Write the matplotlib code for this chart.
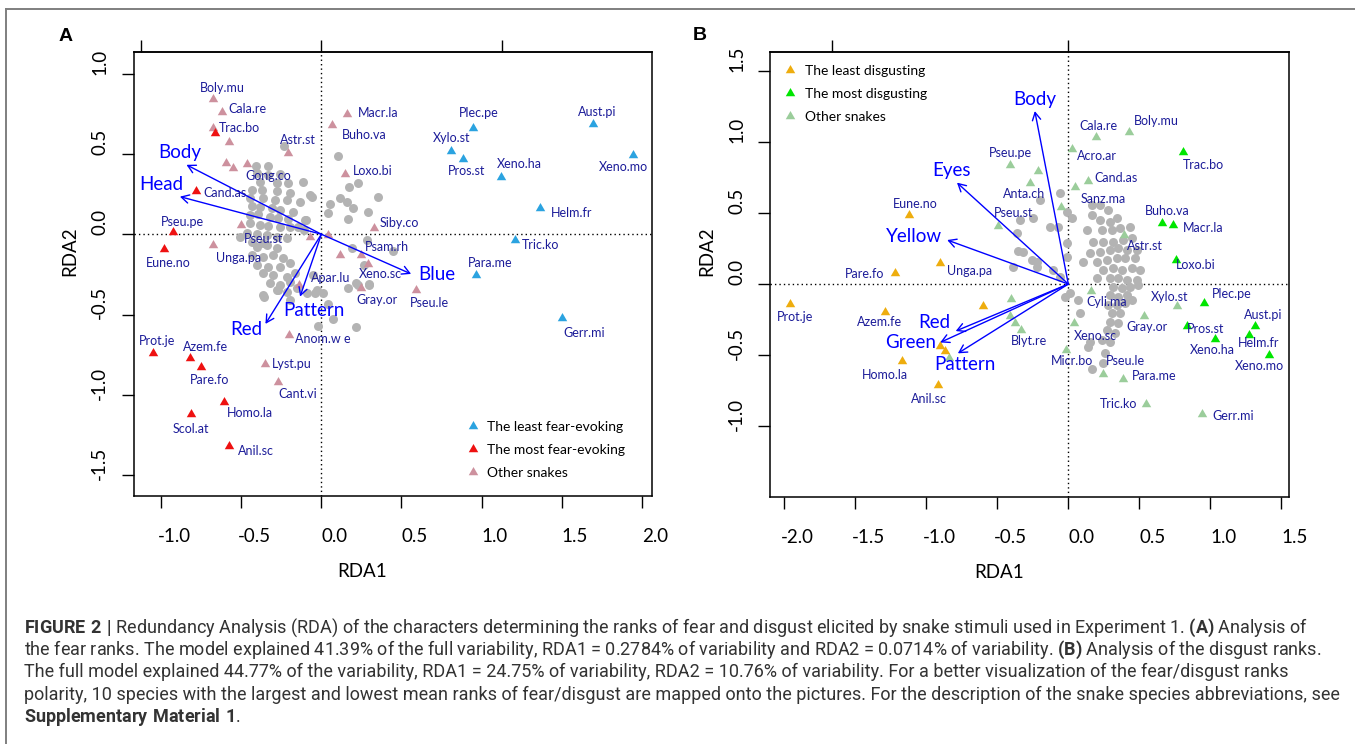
import numpy as np
import matplotlib
matplotlib.use('Agg')
import matplotlib.pyplot as plt
from matplotlib.path import Path
from matplotlib.lines import Line2D
import matplotlib.transforms as mtransforms

plt.rcParams['font.family'] = ['Lato', 'DejaVu Sans']
plt.rcParams['mathtext.fontset'] = 'custom'
plt.rcParams['mathtext.rm'] = 'Roboto'
plt.rcParams['mathtext.bf'] = 'Roboto:bold'

# ---------------- panel A (fear) ----------------
# species with triangles ('' = unlabelled triangle)
a_names = ["Boly.mu", "Cala.re", "", "Trac.bo", "", "Astr.st", "", "", "Gong.co",
           "Cand.as", "Pseu.pe", "Eune.no", "", "Unga.pa", "Pseu.st", "", "Macr.la",
           "Buho.va", "Loxo.bi", "Siby.co", "Psam.rh", "", "Xeno.sc", "Plec.pe",
           "Xylo.st", "Pros.st", "Xeno.ha", "Aust.pi", "Xeno.mo", "Helm.fr", "Tric.ko",
           "Para.me", "Gray.or", "Pseu.le", "Apar.lu", "Gerr.mi", "Anom.w e", "Prot.je",
           "Azem.fe", "Pare.fo", "Lyst.pu", "Cant.vi", "Homo.la", "Scol.at", "Anil.sc"]
a_group = ["o", "o", "o", "m", "o", "o", "o", "o", "o",
           "m", "m", "m", "o", "o", "o", "o", "o",
           "o", "o", "o", "o", "o", "o", "l",
           "l", "l", "l", "l", "l", "l", "l",
           "l", "o", "o", "o", "l", "o", "m",
           "m", "m", "o", "o", "m", "m", "m"]
a_x = [-0.679, -0.620, -0.679, -0.666, -0.577, -0.208, -0.593, -0.552, -0.463,
       -0.782, -0.929, -0.980, -0.501, -0.679, -0.068, 0.043, 0.157,
       0.068, 0.149, 0.328, 0.246, 0.119, 0.292, 0.945,
       0.809, 0.885, 1.123, 1.695, 1.946, 1.364, 1.207,
       0.966, 0.246, 0.593, -0.138, 1.500, -0.200, -1.053,
       -0.823, -0.753, -0.352, -0.271, -0.609, -0.812, -0.574]
a_y = [0.840, 0.759, 0.664, 0.633, 0.571, 0.508, 0.446, 0.415, 0.438,
       0.272, 0.012, -0.093, 0.058, -0.066, -0.019, -0.004, 0.751,
       0.680, 0.376, 0.041, -0.129, -0.129, -0.185, 0.660,
       0.515, 0.467, 0.359, 0.687, 0.494, 0.162, -0.035,
       -0.253, -0.336, -0.347, -0.315, -0.523, -0.627, -0.737,
       -0.772, -0.828, -0.807, -0.917, -1.042, -1.118, -1.317]
a_lab_x = [-0.620, -0.463, np.nan, -0.512, np.nan, -0.146, np.nan, np.nan, -0.330,
           -0.604, -0.866, -0.958, np.nan, -0.517, -0.360, np.nan, 0.355,
           0.268, 0.322, 0.485, 0.409, np.nan, 0.371, 0.985,
           0.815, 0.904, 1.237, 1.722, 1.884, 1.559, 1.370,
           1.053, 0.349, 0.674, 0.057, 1.643, 0.011, -1.023,
           -0.726, -0.698, -0.187, -0.149, -0.447, -0.815, -0.409]
a_lab_y = [0.911, 0.780, np.nan, 0.664, np.nan, 0.587, np.nan, np.nan, 0.365,
           0.259, 0.079, -0.176, np.nan, -0.145, -0.031, np.nan, 0.753,
           0.616, 0.392, 0.073, -0.081, np.nan, -0.247, 0.753,
           0.598, 0.394, 0.436, 0.763, 0.417, 0.131, -0.068,
           -0.176, -0.409, -0.429, -0.274, -0.612, -0.654, -0.664,
           -0.703, -0.907, -0.807, -0.994, -1.110, -1.210, -1.346]

# other snakes shown as grey dots
a_site_x = [-0.408, -0.331, -0.404, -0.331, -0.258, -0.383, -0.279, -0.206, -0.113, -0.435,
            -0.373, -0.279, -0.196, -0.446, -0.362, -0.289, -0.217, -0.134, -0.071, -0.435,
            -0.383, -0.310, -0.258, -0.175, -0.446, -0.394, -0.321, -0.268, -0.206, -0.102,
            -0.446, -0.383, -0.331, -0.258, -0.196, -0.144, -0.467, -0.404, -0.342, -0.279,
            -0.508, -0.435, -0.362, -0.217, -0.233,
            -0.404, -0.342, -0.279, -0.435, -0.362, -0.300, -0.238, -0.404, -0.331, -0.258,
            -0.196, -0.362, -0.300, -0.217, -0.165, -0.321, -0.258, -0.196, -0.279, -0.217,
            -0.362, -0.155, -0.092, -0.050, -0.030, -0.196,
            0.103, -0.057, 0.051, 0.119, 0.173, 0.227, 0.160, 0.200, 0.043, 0.165,
            0.290, 0.355, -0.097, -0.111, 0.444, 0.282, 0.192, 0.268, 0.300, 0.227,
            -0.360, -0.273, -0.038, 0.011, 0.043, 0.073, -0.022, 0.219, 0.168, 0.219, 0.295]
a_site_y = [0.425, 0.425, 0.380, 0.369, 0.373, 0.328, 0.318, 0.318, 0.328, 0.276,
            0.276, 0.266, 0.259, 0.224, 0.224, 0.214, 0.214, 0.203, 0.245, 0.176,
            0.172, 0.162, 0.151, 0.141, 0.120, 0.127, 0.110, 0.100, 0.093, 0.089,
            0.068, 0.058, 0.052, 0.048, 0.044, 0.044, 0.006, 0.002, -0.004, -0.015,
            -0.015, -0.046, -0.056, -0.025, 0.552,
            -0.077, -0.067, -0.087, -0.129, -0.139, -0.129, -0.150, -0.191, -0.201, -0.201,
            -0.181, -0.243, -0.253, -0.264, -0.243, -0.305, -0.316, -0.295, -0.347, -0.357,
            -0.378, -0.336, -0.367, -0.253, -0.347, -0.409,
            0.488, 0.234, 0.189, 0.224, 0.297, 0.317, 0.203, 0.162, 0.135, 0.093,
            0.141, 0.234, 0.089, 0.027, -0.102, -0.035, -0.087, -0.191, -0.315, -0.315,
            -0.388, -0.346, -0.363, -0.367, -0.434, -0.529, -0.570, -0.575, -0.336, -0.305, -0.309]

# explanatory variables (arrow tips and label positions)
a_arrow_names = ["Body", "Head", "Blue", "Red", "Pattern"]
a_arrow_x = [-0.842, -0.883, 0.560, -0.349, -0.133]
a_arrow_y = [0.432, 0.234, -0.247, -0.558, -0.388]
a_arrow_lx = [-0.883, -0.996, 0.720, -0.471, -0.046]
a_arrow_ly = [0.508, 0.307, -0.249, -0.591, -0.477]

# ---------------- panel B (disgust) ----------------
b_names = ["Cala.re", "Boly.mu", "Acro.ar", "Trac.bo", "Pseu.pe", "", "Anta.ch", "Cand.as",
           "Sanz.ma", "", "Pseu.st", "Eune.no", "Buho.va", "Macr.la", "Astr.st", "Loxo.bi",
           "Unga.pa", "Pare.fo", "Prot.je", "Azem.fe", "", "Cyli.ma", "", "", "", "Blyt.re",
           "Xylo.st", "Plec.pe", "Gray.or", "Pros.st", "Aust.pi", "Helm.fr", "Xeno.ha",
           "Xeno.mo", "Xeno.sc", "Micr.bo", "Pseu.le", "Para.me", "Tric.ko", "Gerr.mi",
           "Homo.la", "Anil.sc", "", "", ""]
b_group = ["o", "o", "o", "m", "o", "o", "o", "o",
           "o", "o", "o", "l", "m", "m", "o", "m",
           "l", "l", "l", "l", "l", "o", "o", "o", "o", "o",
           "o", "m", "o", "m", "m", "m", "m",
           "m", "o", "o", "o", "o", "o", "o",
           "l", "l", "l", "l", "o"]
b_x = [0.197, 0.427, 0.024, 0.805, -0.408, -0.212, -0.272, 0.136,
       0.045, -0.051, -0.496, -1.120, 0.660, 0.738, 0.393, 0.756,
       -0.905, -1.222, -1.958, -1.292, -0.602, 0.160, -0.405, -0.411, -0.372, -0.333,
       0.765, 0.956, 0.533, 0.835, 1.316, 1.274, 1.032,
       1.416, 0.042, -0.015, 0.245, 0.384, 0.545, 0.941,
       -1.168, -0.920, -0.902, -0.871, -0.838]
b_y = [1.033, 1.073, 0.951, 0.927, 0.838, 0.796, 0.711, 0.728,
       0.685, 0.545, 0.408, 0.486, 0.432, 0.415, 0.345, 0.169,
       0.150, 0.080, -0.141, -0.195, -0.153, -0.047, -0.108, -0.223, -0.277, -0.324,
       -0.155, -0.136, -0.223, -0.296, -0.296, -0.359, -0.390,
       -0.500, -0.277, -0.465, -0.634, -0.669, -0.845, -0.915,
       -0.542, -0.711, -0.434, -0.469, -0.523]
b_lab_x = [0.212, 0.620, 0.200, 0.950, -0.408, np.nan, -0.312, 0.336,
           0.245, np.nan, -0.384, -1.077, 0.699, 0.947, 0.539, 0.896,
           -0.696, -1.437, -1.924, -1.328, np.nan, 0.272, np.nan, np.nan, np.nan, -0.275,
           0.711, 1.150, 0.554, 0.968, 1.371, 1.340, 1.017,
           1.349, 0.194, 0.027, 0.402, 0.605, 0.354, 1.159,
           -1.289, -0.980, np.nan, np.nan, np.nan]
b_lab_y = [1.115, 1.146, 0.904, 0.840, 0.925, np.nan, 0.634, 0.744,
           0.599, np.nan, 0.502, 0.566, 0.516, 0.394, 0.270, 0.134,
           0.094, 0.070, -0.230, -0.265, np.nan, -0.124, np.nan, np.nan, np.nan, -0.399,
           -0.089, -0.073, -0.300, -0.319, -0.218, -0.418, -0.465,
           -0.577, -0.364, -0.542, -0.542, -0.648, -0.847, -0.930,
           -0.638, -0.810, np.nan, np.nan, np.nan]

b_site_x = [0.164, 0.223, 0.282, 0.164, 0.223, 0.294, 0.340, 0.129, 0.235, 0.305,
            0.364, 0.434, 0.176, 0.247, 0.317, 0.388, 0.446, 0.153, 0.223, 0.294,
            0.352, 0.411, 0.481, 0.106, 0.200, 0.270, 0.340, 0.399, 0.470, 0.247,
            0.317, 0.376, 0.446, 0.505, 0.200, 0.294, 0.352, 0.411, 0.481, 0.317,
            0.376, 0.434, 0.493, 0.294, 0.352, 0.411, 0.282, 0.340, 0.399, 0.305,
            0.364, 0.294, 0.352, 0.270, 0.329, 0.235, 0.294, 0.153, 0.082, 0.258,
            0.247, -0.023, 0.070,
            -0.059, -0.199, -0.012, -0.246, -0.340, -0.129, -0.070, -0.364, -0.352, -0.317,
            -0.258, -0.223, -0.387, -0.223, -0.012, -0.105, -0.059, -0.012,
            0.024, 0.009, 0.139, 0.169, 0.448]
b_site_y = [0.556, 0.556, 0.521, 0.486, 0.451, 0.439, 0.462, 0.380, 0.380, 0.380,
            0.392, 0.404, 0.298, 0.298, 0.298, 0.310, 0.322, 0.216, 0.228, 0.239,
            0.251, 0.239, 0.239, 0.157, 0.157, 0.169, 0.181, 0.181, 0.181, 0.099,
            0.110, 0.099, 0.110, 0.099, 0.040, 0.040, 0.040, 0.028, 0.028, -0.019,
            -0.030, -0.019, -0.007, -0.077, -0.089, -0.077, -0.148, -0.148, -0.136, -0.207,
            -0.207, -0.265, -0.277, -0.324, -0.347, -0.394, -0.406, -0.406, -0.207, -0.488,
            -0.559, -0.089, -0.113,
            0.638, 0.592, 0.510, 0.462, 0.451, 0.404, 0.404, 0.357, 0.232, 0.228,
            0.169, 0.157, 0.122, 0.117, 0.188, 0.099, 0.052, 0.286,
            0.462, -0.066, -0.446, -0.601, -0.113]

b_arrow_names = ["Body", "Eyes", "Yellow", "Red", "Green", "Pattern"]
b_arrow_x = [-0.236, -0.784, -0.853, -0.793, -0.902, -0.778]
b_arrow_y = [1.218, 0.714, 0.310, -0.331, -0.411, -0.488]
b_arrow_lx = [-0.239, -0.823, -1.086, -0.941, -1.113, -0.729]
b_arrow_ly = [1.303, 0.798, 0.333, -0.272, -0.411, -0.563]

# caption of the figure
caption_lines = [
    r"$\mathbf{FIGURE\ 2\ |}$ Redundancy Analysis (RDA) of the characters determining the ranks of fear and disgust elicited by snake stimuli used in Experiment 1. $\mathbf{(A)}$ Analysis of",
    r"the fear ranks. The model explained 41.39% of the full variability, RDA1 = 0.2784% of variability and RDA2 = 0.0714% of variability. $\mathbf{(B)}$ Analysis of the disgust ranks.",
    r"The full model explained 44.77% of the variability, RDA1 = 24.75% of variability, RDA2 = 10.76% of variability. For a better visualization of the fear/disgust ranks",
    r"polarity, 10 species with the largest and lowest mean ranks of fear/disgust are mapped onto the pictures. For the description of the snake species abbreviations, see",
    r"$\mathbf{Supplementary\ Material\ 1}$.",
]

NAVY = '#1c1c99'
W, H = 1355.0, 744.0

# equilateral filled triangle like R's pch 17
tri = Path([(0, 1), (-0.866, -0.5), (0.866, -0.5), (0, 1)],
           [Path.MOVETO, Path.LINETO, Path.LINETO, Path.CLOSEPOLY])

fig = plt.figure(figsize=(13.55, 7.44), dpi=100)


def draw_panel(ax, sx, sy, names, groups, px, py, lx, ly,
               arr_n, arr_x, arr_y, arr_lx, arr_ly, cols, leg_labels, leg_anchor,
               xlim, ylim, xticks, yticks, top_factor, top_ticks):
    ax.axhline(0, color='black', lw=1.0, ls=(0, (1, 2.2)), zorder=1)
    ax.axvline(0, color='black', lw=1.0, ls=(0, (1, 2.2)), zorder=1)
    ax.scatter(sx, sy, s=42, color='#b3b3b3', linewidths=0, zorder=2)
    for g in ('o', 'l', 'm'):
        idx = [i for i in range(len(groups)) if groups[i] == g]
        ax.scatter([px[i] for i in idx], [py[i] for i in idx], s=62, marker=tri,
                   color=cols[g], linewidths=0, zorder=3)
    for i in range(len(names)):
        if names[i]:
            ax.text(lx[i], ly[i], names[i], ha='center', va='center', fontsize=9,
                    color=NAVY, zorder=5)
    for i in range(len(arr_n)):
        ax.annotate('', xy=(arr_x[i], arr_y[i]), xytext=(0, 0),
                    arrowprops=dict(arrowstyle='->,head_length=0.55,head_width=0.3',
                                    color='blue', lw=1.0, shrinkA=0, shrinkB=0), zorder=4)
        ax.text(arr_lx[i], arr_ly[i], arr_n[i], ha='center', va='center',
                fontsize=13.5, color='blue', zorder=5)

    handles = [Line2D([], [], marker=tri, ls='none', ms=7.9, color=cols[g],
                      markeredgewidth=0) for g in ('l', 'm', 'o')]
    ax.legend(handles, leg_labels, loc='upper left', bbox_to_anchor=leg_anchor,
              frameon=False, borderpad=0, borderaxespad=0, handlelength=1.0,
              handletextpad=0.55, labelspacing=0.78, prop={'size': 10})

    ax.set_xlim(xlim)
    ax.set_ylim(ylim)
    ax.set_xticks(xticks, ['%.1f' % v for v in xticks])
    ax.set_yticks(yticks, ['%.1f' % v for v in yticks])
    for s in ax.spines.values():
        s.set_linewidth(1.1)
    ax.tick_params(axis='both', length=8.3, width=1.0, labelsize=13.5, direction='out')
    ax.tick_params(axis='x', pad=24.9)
    ax.tick_params(axis='y', pad=16.1, labelrotation=90)
    for lbl in ax.get_xticklabels():
        lbl.set_va('baseline')
    for lbl in ax.get_yticklabels():
        lbl.set_ha('center')
        lbl.set_va('center')

    # top axis with the second (species) scale
    sec = ax.secondary_xaxis('top', functions=(lambda x: x / top_factor,
                                               lambda x: x * top_factor))
    sec.set_xticks(top_ticks, [''] * len(top_ticks))
    sec.tick_params(length=8.3, width=1.0, direction='out')
    sec.spines['top'].set_linewidth(1.1)

    # tick labels of the original sit a little right / up from the ticks
    offx = mtransforms.ScaledTranslation(0.13, 0, fig.dpi_scale_trans)
    offy = mtransforms.ScaledTranslation(0, 0.12, fig.dpi_scale_trans)
    for t in ax.xaxis.get_major_ticks():
        t.label1.set_transform(t.label1.get_transform() + offx)
    for t in ax.yaxis.get_major_ticks():
        t.label1.set_transform(t.label1.get_transform() + offy)

    ax.set_xlabel('RDA1', fontsize=13.5)
    ax.set_ylabel('RDA2', fontsize=13.5)
    ax.xaxis.label.set_va('center')
    ax.yaxis.label.set_va('center')


axA = fig.add_axes([133.6 / W, 1 - 495.7 / H, 518.3 / W, 443.7 / H])
draw_panel(axA, a_site_x, a_site_y, a_names, a_group, a_x, a_y, a_lab_x, a_lab_y,
           a_arrow_names, a_arrow_x, a_arrow_y, a_arrow_lx, a_arrow_ly,
           {'l': '#2ba3e0', 'm': '#ee1111', 'o': '#cd919e'},
           ["The least fear-evoking", "The most fear-evoking", "Other snakes"],
           (0.641, 0.168), (-1.172, 2.063), (-1.627, 1.134),
           [-1.0, -0.5, 0.0, 0.5, 1.0, 1.5, 2.0], [-1.5, -1.0, -0.5, 0.0, 0.5, 1.0],
           1.127, [-1, 0, 1])
axA.xaxis.set_label_coords(0.4418, -0.1713)
axA.yaxis.set_label_coords(-0.1239, 0.552)

axB = fig.add_axes([770.4 / W, 1 - 496.5 / H, 518.3 / W, 444.5 / H])
draw_panel(axB, b_site_x, b_site_y, b_names, b_group, b_x, b_y, b_lab_x, b_lab_y,
           b_arrow_names, b_arrow_x, b_arrow_y, b_arrow_lx, b_arrow_ly,
           {'l': '#eead0e', 'm': '#00e600', 'o': '#9bcd9b'},
           ["The least disgusting", "The most disgusting", "Other snakes"],
           (0.0247, 0.971), (-2.098, 1.552), (-1.496, 1.634),
           [-2.0, -1.5, -1.0, -0.5, 0.0, 0.5, 1.0, 1.5], [-1.0, -0.5, 0.0, 0.5, 1.0, 1.5],
           1.661, [-1, 0])
axB.xaxis.set_label_coords(0.4418, -0.170)
axB.yaxis.set_label_coords(-0.1229, 0.553)

# panel letters
fig.text(66 / W, 1 - 36.7 / H, 'A', fontsize=14, weight='bold', family='Liberation Sans',
         ha='center', va='center')
fig.text(699.4 / W, 1 - 36 / H, 'B', fontsize=14, weight='bold', family='Liberation Sans',
         ha='center', va='center')

# outer frame (top and left edges visible)
fig.add_artist(Line2D([6 / W, 1.0], [1 - 9 / H, 1 - 9 / H], transform=fig.transFigure,
                      color='#7f7f7f', lw=1.4))
fig.add_artist(Line2D([6 / W, 6 / W], [1 - 9 / H, 0.0], transform=fig.transFigure,
                      color='#7f7f7f', lw=1.4))

# caption
cap_base = [632.3, 654.9, 677.3, 699.6, 722.3]
for i, line in enumerate(caption_lines):
    fig.text(24 / W, 1 - cap_base[i] / H, line, fontsize=12.95, family='Roboto',
             color='#333333', va='baseline', ha='left')

plt.savefig('out.png', dpi=100)
